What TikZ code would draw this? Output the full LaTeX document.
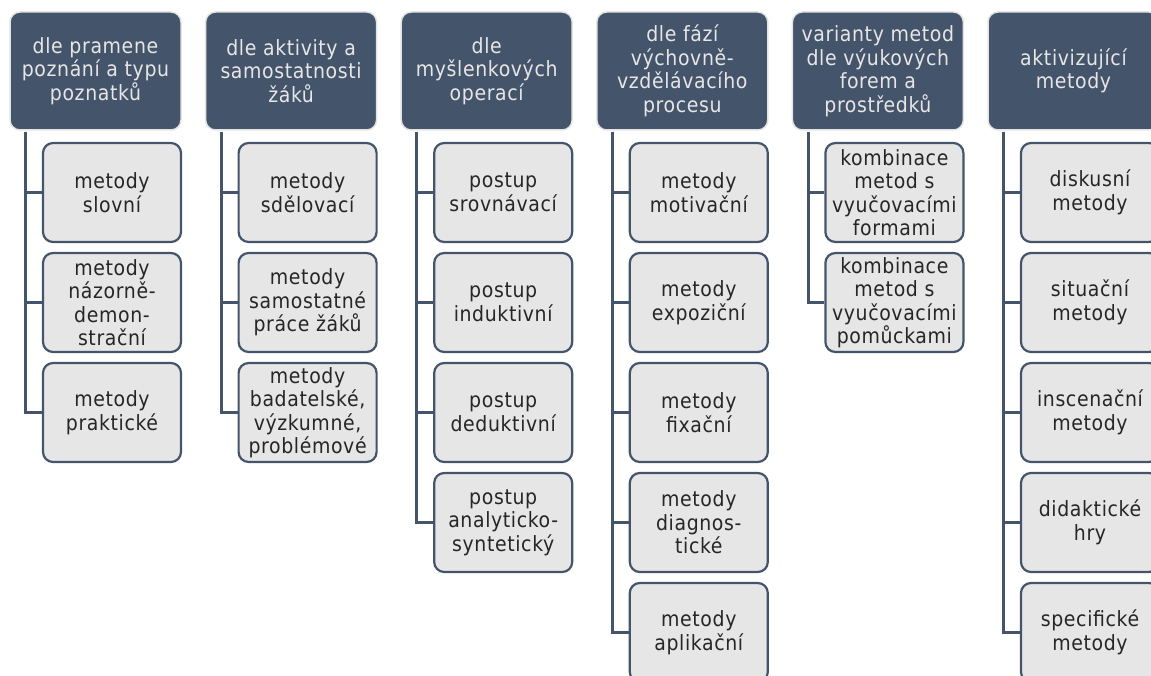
\documentclass[tikz,border=0pt]{standalone}
\usepackage{fontspec}
\setmainfont{DejaVu Sans Condensed}[LetterSpace=3]
\definecolor{slate}{HTML}{44546A}
\definecolor{paleface}{HTML}{E7E6E6}
\definecolor{rim}{HTML}{E4E4E4}
\definecolor{ink}{HTML}{262626}
\begin{document}
\begin{tikzpicture}[x=1pt,y=-1pt,
  headbox/.style={draw=rim, line width=1.5pt, fill=slate, rounded corners=10pt,
    minimum width=171pt, minimum height=118pt, inner sep=0pt, align=center,
    text=paleface, font=\fontsize{21}{23.5}\selectfont},
  itembox/.style={draw=slate, line width=2.2pt, fill=paleface, rounded corners=10pt,
    minimum width=138pt, minimum height=99pt, inner sep=0pt, align=center,
    text=ink, font=\fontsize{21}{23.5}\selectfont},
  conn/.style={draw=slate, line width=3pt}]
\useasboundingbox (0,0) rectangle (1151,676);

% headers: left edges 10, 205.6, 401.2, 596.8, 792.4, 988
\node[headbox] (h1) at (95.5,71)  {dle pramene\\poznání a typu\\poznatků};
\node[headbox] (h2) at (291.1,71) {dle aktivity a\\samostatnosti\\žáků};
\node[headbox] (h3) at (486.7,71) {dle\\myšlenkových\\operací};
\node[headbox] (h4) at (682.3,71) {dle fází\\výchovně-\\vzdělávacího\\procesu};
\node[headbox] (h5) at (877.9,71) {varianty metod\\dle výukových\\forem a\\prostředků};
\node[headbox] (h6) at (1073.5,71) {aktivizující\\metody};

% column 1
\node[itembox] (a1) at (112,192.5) {metody\\slovní};
\node[itembox] (a2) at (112,302.5) {metody\\názorně-\\demon-\\strační};
\node[itembox] (a3) at (112,412.5) {metody\\praktické};
% column 2
\node[itembox] (b1) at (307.6,192.5) {metody\\sdělovací};
\node[itembox] (b2) at (307.6,302.5) {metody\\samostatné\\práce žáků};
\node[itembox] (b3) at (307.6,412.5) {metody\\badatelské,\\výzkumné,\\problémové};
% column 3
\node[itembox] (c1) at (503.2,192.5) {postup\\srovnávací};
\node[itembox] (c2) at (503.2,302.5) {postup\\induktivní};
\node[itembox] (c3) at (503.2,412.5) {postup\\deduktivní};
\node[itembox] (c4) at (503.2,522.5) {postup\\analyticko-\\syntetický};
% column 4
\node[itembox] (d1) at (698.8,192.5) {metody\\motivační};
\node[itembox] (d2) at (698.8,302.5) {metody\\expoziční};
\node[itembox] (d3) at (698.8,412.5) {metody\\fixační};
\node[itembox] (d4) at (698.8,522.5) {metody\\diagnos-\\tické};
\node[itembox] (d5) at (698.8,632.5) {metody\\aplikační};
% column 5
\node[itembox] (e1) at (894.4,192.5) {kombinace\\metod s\\vyučovacími\\formami};
\node[itembox] (e2) at (894.4,302.5) {kombinace\\metod s\\vyučovacími\\pomůckami};
% column 6
\node[itembox] (f1) at (1090,192.5) {diskusní\\metody};
\node[itembox] (f2) at (1090,302.5) {situační\\metody};
\node[itembox] (f3) at (1090,412.5) {inscenační\\metody};
\node[itembox] (f4) at (1090,522.5) {didaktické\\hry};
\node[itembox] (f5) at (1090,632.5) {specifické\\metody};

% connectors: trunk from each header down, branch into each item
\foreach \h/\items in {h1/{a1,a2,a3}, h2/{b1,b2,b3}, h3/{c1,c2,c3,c4},
                       h4/{d1,d2,d3,d4,d5}, h5/{e1,e2}, h6/{f1,f2,f3,f4,f5}}{
  \foreach \i in \items {
    \draw[conn] ([xshift=16.5pt,yshift=-0.8pt]\h.south west) |- (\i.west);
  }
}
\end{tikzpicture}
\end{document}
